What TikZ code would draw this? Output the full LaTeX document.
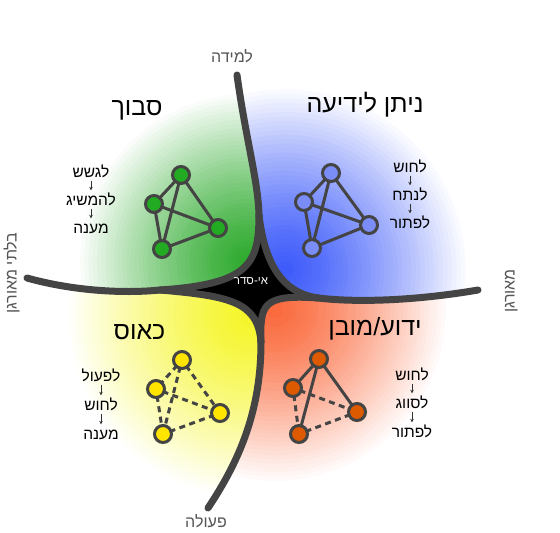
\documentclass[tikz,border=0pt]{standalone}
\usepackage{fontspec}
\usetikzlibrary{arrows.meta}
\newfontfamily\heb[Script=Hebrew]{Liberation Sans}
\TeXXeTstate=1
\definecolor{linegray}{RGB}{68,68,68}
\definecolor{axisgray}{RGB}{85,85,85}
\definecolor{greenC}{RGB}{45,170,45}
\definecolor{blueC}{RGB}{60,90,250}
\definecolor{yellowC}{RGB}{245,245,40}
\definecolor{orangeC}{RGB}{250,105,60}
\definecolor{greenN}{RGB}{34,170,34}
\definecolor{blueN}{RGB}{122,140,245}
\definecolor{yellowN}{RGB}{255,228,0}
\definecolor{orangeN}{RGB}{222,90,0}
\newcommand\myrings[4]{%
  \foreach \i in {0,...,40}{%
    \pgfmathsetmacro\f{1-\i/41}%
    \pgfmathtruncatemacro\p{100*(1-\f^1.3)}%
    \pgfmathsetmacro\r{#4*\f}%
    \fill[#1!\p!white] (#2,#3) circle (\r pt);}}
\tikzset{
  bigline/.style={line width=7pt, draw=linegray, line cap=round},
  netnode/.style={circle, draw=linegray, line width=3pt, minimum size=17pt, inner sep=0pt},
  netedge/.style={draw=linegray, line width=3pt, shorten <=-3pt, shorten >=-3pt},
  dashedge/.style={netedge, dash pattern=on 6pt off 4.5pt},
  title/.style={font=\heb\fontsize{25}{29}\selectfont, anchor=base, inner sep=0pt},
  steptext/.style={font=\heb\fontsize{15.5}{18}\selectfont, anchor=base, inner sep=1pt, text height=11pt, text depth=0pt},
  steparrow/.style={draw=black!80, line width=0.9pt, -{Stealth[length=3.5pt,width=3.5pt]}, shorten <=2.5pt, shorten >=2.5pt},
  axislabel/.style={font=\heb\fontsize{16}{19}\selectfont, text=axisgray, inner sep=0pt},
}
\begin{document}
\begin{tikzpicture}[x=1pt,y=-1pt]
\useasboundingbox (0,0) rectangle (560,533);
\fill[white] (0,0) rectangle (560,533);
% green region
\begin{scope}
\clip (0,0) -- (237,0) -- (237,75) .. controls (246,140) and (258,180) .. (259,215)
  .. controls (259,265) and (248,284) .. (160,290)
  .. controls (120,294) and (70,290) .. (27,278) -- (0,278) -- cycle;
\myrings{greenC}{248}{262}{172}
\end{scope}
% blue region
\begin{scope}
\clip (237,0) -- (560,0) -- (560,290) -- (478,290)
  .. controls (420,300) and (360,303) .. (318,298)
  .. controls (290,294) and (266,275) .. (259,215)
  .. controls (258,180) and (246,140) .. (237,75) -- cycle;
\myrings{blueC}{285}{270}{185}
\end{scope}
% yellow region
\begin{scope}
\clip (0,278) -- (27,278) .. controls (70,290) and (120,294) .. (160,290)
  .. controls (230,296) and (258,302) .. (261,342)
  .. controls (261,410) and (240,460) .. (208,508) -- (208,533) -- (0,533) -- cycle;
\myrings{yellowC}{250}{315}{185}
\end{scope}
% orange region
\begin{scope}
\clip (208,533) -- (208,508) .. controls (240,460) and (261,410) .. (261,342)
  .. controls (260,305) and (262,294) .. (318,298)
  .. controls (360,303) and (420,300) .. (478,290) -- (560,290) -- (560,533) -- cycle;
\myrings{orangeC}{275}{310}{175}
\end{scope}
% black centre
\fill[black] (259,215) .. controls (259,265) and (248,284) .. (160,290)
  .. controls (230,296) and (258,302) .. (261,342)
  .. controls (260,305) and (262,294) .. (318,298)
  .. controls (290,294) and (266,275) .. (259,215) -- cycle;
% thick lines
\coordinate (Et) at (237,75);
\coordinate (El) at (27,278);
\coordinate (Eb) at (208,508);
\coordinate (Er) at (478,290);
\coordinate (Ct) at (259,215);
\coordinate (Cl) at (160,290);
\coordinate (Cb) at (261,342);
\coordinate (Cr) at (318,298);
\draw[bigline] (Et) .. controls (246,140) and (258,180) .. (Ct);
\draw[bigline] (El) .. controls (70,290) and (120,294) .. (Cl);
\draw[bigline] (Eb) .. controls (240,460) and (261,410) .. (Cb);
\draw[bigline] (Er) .. controls (420,300) and (360,303) .. (Cr);
\draw[bigline] (Ct) .. controls (259,265) and (248,284) .. (Cl);
\draw[bigline] (Cl) .. controls (230,296) and (258,302) .. (Cb);
\draw[bigline] (Cb) .. controls (260,305) and (262,294) .. (Cr);
\draw[bigline] (Cr) .. controls (290,294) and (266,275) .. (Ct);
\node[font=\heb\fontsize{11.5}{14}\selectfont, text=white, inner sep=0pt] (dis) at (251,281) {\beginR אי-סדר\endR};
% axis labels
\node[axislabel, anchor=base] (learn) at (232,62) {\beginR למידה\endR};
\node[axislabel, anchor=base] (act) at (206,527) {\beginR פעולה\endR};
\node[axislabel, rotate=90, text height=11pt, text depth=0pt] (unorg) at (11,273) {\beginR בלתי מאורגן\endR};
\node[axislabel, rotate=90, text height=11pt, text depth=0pt] (org) at (509,291) {\beginR מאורגן\endR};
% titles
\node[title] (tg) at (137,115) {\beginR סבוך\endR};
\node[title] (tb) at (365,112) {\beginR ניתן לידיעה\endR};
\node[title] (ty) at (139.5,339) {\beginR כאוס\endR};
\node[title] (to) at (375,335) {\beginR ידוע/מובן\endR};
% step lists
\node[steptext] (g1) at (91,177) {\beginR לגשש\endR};
\node[steptext] (g2) at (91,205) {\beginR להמשיג\endR};
\node[steptext] (g3) at (91,233) {\beginR מענה\endR};
\draw[steparrow] (g1.south) -- (g2.north);
\draw[steparrow] (g2.south) -- (g3.north);
\node[steptext] (b1) at (410,172) {\beginR לחוש\endR};
\node[steptext] (b2) at (410,200) {\beginR לנתח\endR};
\node[steptext] (b3) at (410,228) {\beginR לפתור\endR};
\draw[steparrow] (b1.south) -- (b2.north);
\draw[steparrow] (b2.south) -- (b3.north);
\node[steptext] (y1) at (101,381) {\beginR לפעול\endR};
\node[steptext] (y2) at (101,410) {\beginR לחוש\endR};
\node[steptext] (y3) at (101,439) {\beginR מענה\endR};
\draw[steparrow] (y1.south) -- (y2.north);
\draw[steparrow] (y2.south) -- (y3.north);
\node[steptext] (o1) at (412,380) {\beginR לחוש\endR};
\node[steptext] (o2) at (412,408) {\beginR לסווג\endR};
\node[steptext] (o3) at (412,437) {\beginR לפתור\endR};
\draw[steparrow] (o1.south) -- (o2.north);
\draw[steparrow] (o2.south) -- (o3.north);
% green network
\node[netnode, fill=greenN] (gt) at (181,175) {};
\node[netnode, fill=greenN] (gl) at (154,204) {};
\node[netnode, fill=greenN] (gr) at (218,228) {};
\node[netnode, fill=greenN] (gb) at (162,249) {};
\draw[netedge] (gt) -- (gl);
\draw[netedge] (gt) -- (gb);
\draw[netedge] (gt) -- (gr);
\draw[netedge] (gl) -- (gr);
\draw[netedge] (gl) -- (gb);
\draw[netedge] (gb) -- (gr);
% blue network
\node[netnode, fill=blueN] (bt) at (331,173) {};
\node[netnode, fill=blueN] (bl) at (304,202) {};
\node[netnode, fill=blueN] (br) at (369,225) {};
\node[netnode, fill=blueN] (bb) at (312,248) {};
\draw[netedge] (bt) -- (bl);
\draw[netedge] (bt) -- (bb);
\draw[netedge] (bt) -- (br);
\draw[netedge] (bl) -- (br);
\draw[netedge] (bl) -- (bb);
\draw[netedge] (bb) -- (br);
% yellow network
\node[netnode, fill=yellowN] (yt) at (182,360) {};
\node[netnode, fill=yellowN] (yl) at (156,389) {};
\node[netnode, fill=yellowN] (yr) at (220,413) {};
\node[netnode, fill=yellowN] (yb) at (163,434) {};
\draw[dashedge] (yt) -- (yl);
\draw[dashedge] (yt) -- (yb);
\draw[dashedge] (yt) -- (yr);
\draw[dashedge] (yl) -- (yr);
\draw[dashedge] (yl) -- (yb);
\draw[dashedge] (yb) -- (yr);
% orange network
\node[netnode, fill=orangeN] (ot) at (319,359) {};
\node[netnode, fill=orangeN] (ol) at (293,388) {};
\node[netnode, fill=orangeN] (or) at (357,412) {};
\node[netnode, fill=orangeN] (ob) at (299,434) {};
\draw[netedge] (ot) -- (ol);
\draw[netedge] (ot) -- (ob);
\draw[netedge] (ot) -- (or);
\draw[dashedge] (ol) -- (or);
\draw[dashedge] (ol) -- (ob);
\draw[dashedge] (ob) -- (or);
\end{tikzpicture}
\end{document}
